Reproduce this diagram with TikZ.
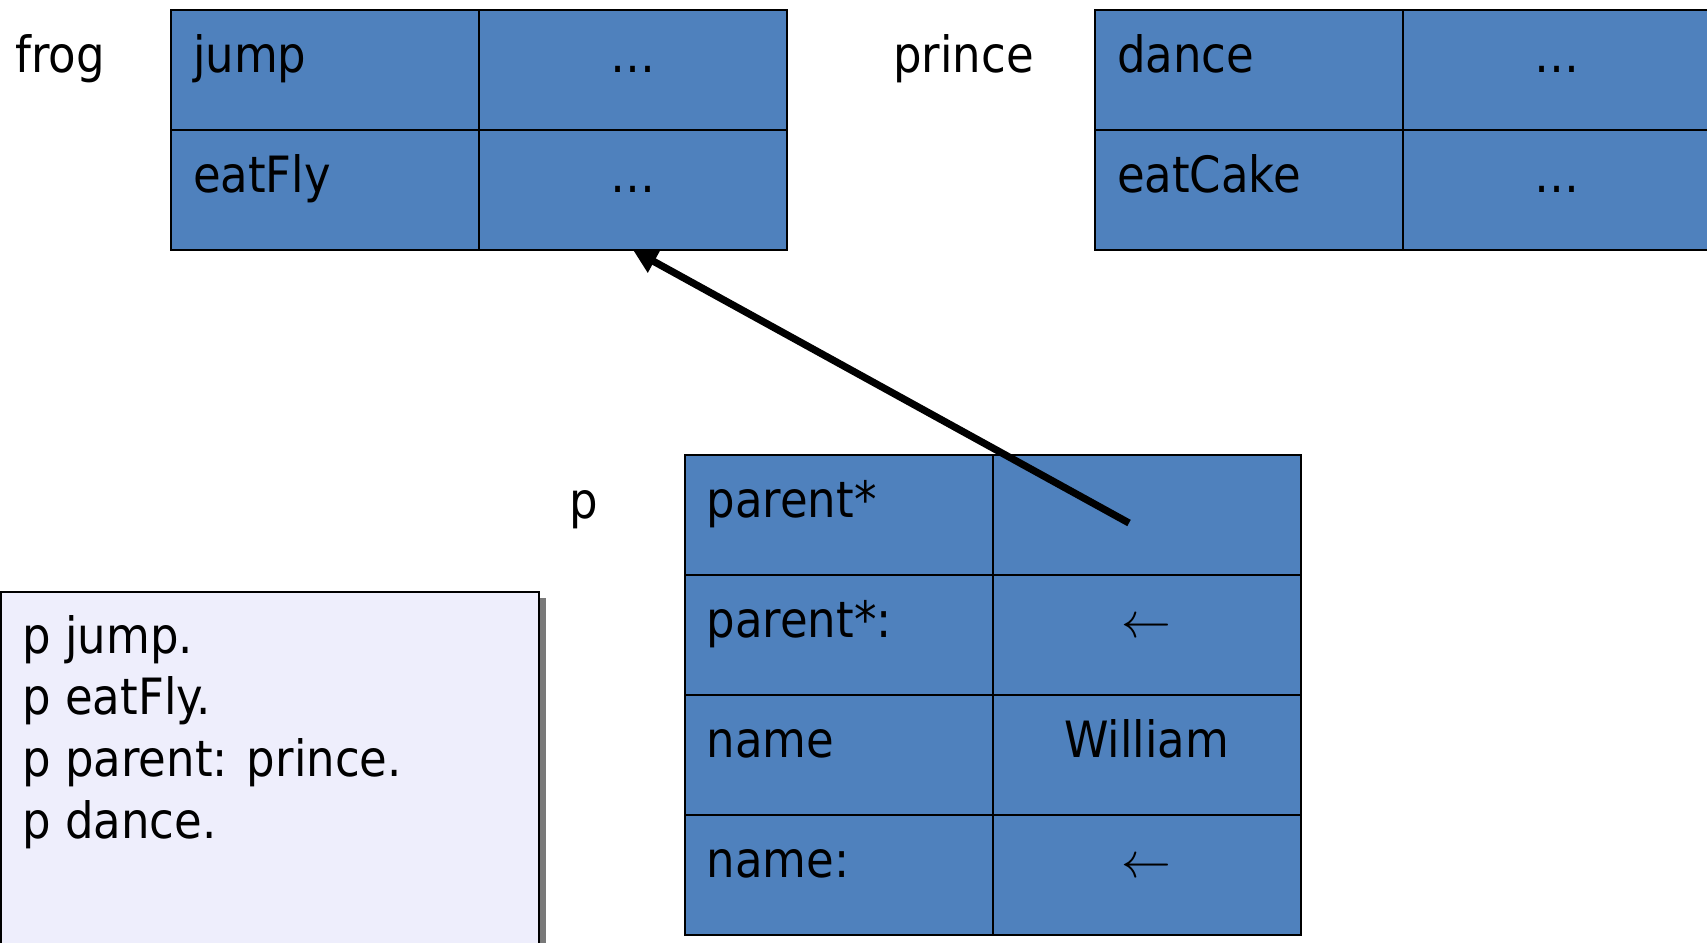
\documentclass[tikz,border=0pt]{standalone}
\usepackage{fontspec}
\setmainfont{DejaVu Sans}[FakeStretch=0.9]
\usetikzlibrary{positioning,arrows.meta,shadows}
\definecolor{cellblue}{HTML}{4F81BD}
\definecolor{notefill}{HTML}{EEEEFC}
\tikzset{
  cell/.style={draw=black, line width=1pt, fill=cellblue, minimum width=154pt, minimum height=60pt,
    inner sep=0pt, outer sep=0pt, text height=14pt, text depth=12pt},
  slotcell/.style={cell, text width=132pt, align=left},
  valcell/.style={cell},
  objname/.style={anchor=base west, inner sep=0pt},
}
\begin{document}
\begin{tikzpicture}[x=0.5pt, y=-0.5pt, font=\fontsize{25pt}{31pt}\selectfont]
    \useasboundingbox (0,0) rectangle (1707,942);
    % Objekt frog
    \node[objname] (frog) at (15,72) {frog};
    \node[slotcell] (frogjump) at (325,70) {jump};
    \node[valcell, right=0pt of frogjump] (frogjumpval) {…};
    \node[slotcell, below=0pt of frogjump] (frogfly) {eatFly};
    \node[valcell, right=0pt of frogfly] (frogflyval) {…};
    % Objekt prince
    \node[objname] (prince) at (893,72) {prince};
    \node[slotcell] (princedance) at (1249,70) {dance};
    \node[valcell, right=0pt of princedance] (princedanceval) {…};
    \node[slotcell, below=0pt of princedance] (princecake) {eatCake};
    \node[valcell, right=0pt of princecake] (princecakeval) {…};
    % Objekt p
    \node[objname] (p) at (569,518) {p};
    \node[slotcell] (pparent) at (838.5,515) {parent*};
    \node[valcell, right=0pt of pparent] (pparentval) {};
    \node[slotcell, below=0pt of pparent] (psetparent) {parent*:};
    \node[valcell, right=0pt of psetparent] (psetparentval) {$\leftarrow$};
    \node[slotcell, below=0pt of psetparent] (pname) {name};
    \node[valcell, right=0pt of pname] (pnameval) {William};
    \node[slotcell, below=0pt of pname] (psetname) {name:};
    \node[valcell, right=0pt of psetname] (psetnameval) {$\leftarrow$};
    % Zeiger parent* -> frog
    \coordinate (ptr) at (1129,523);
    \draw[-{Triangle[length=12pt,width=12pt]}, line width=3.6pt] (ptr) -- (frogflyval.south);
    % Code
    \node[draw=black, line width=1pt, fill=notefill, minimum width=269pt, minimum height=190pt,
      anchor=north west, inner sep=0pt, outer sep=0pt,
      drop shadow={shadow xshift=3.5pt, shadow yshift=-3pt, opacity=0.75, fill=black!70}] (code) at (1,592) {};
    \foreach \t [count=\i] in {p jump., p eatFly., p parent: prince., p dance.}
        \node[objname] (codeline\i) at (22,{653+61.7*(\i-1)}) {\t};
\end{tikzpicture}
\end{document}
